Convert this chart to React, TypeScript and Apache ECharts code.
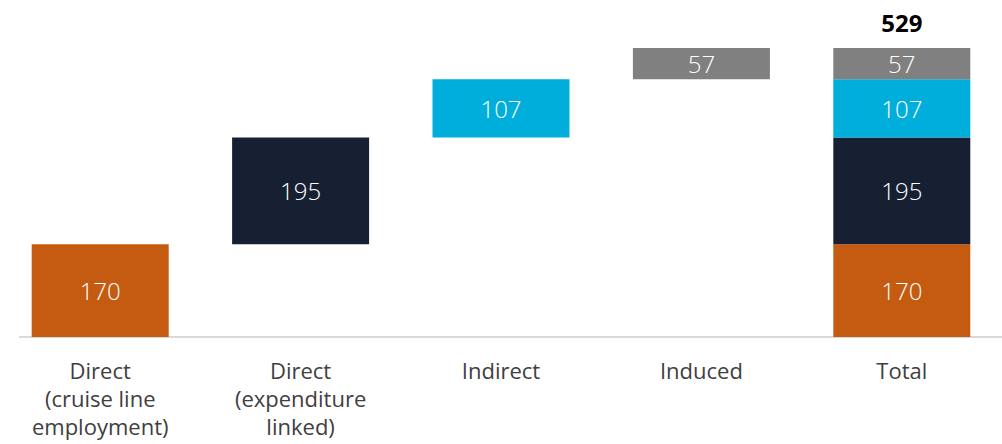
import React, { useEffect, useRef } from "react";
import * as echarts from "echarts";

const categories = [
  "Direct\n(cruise line\nemployment)",
  "Direct\n(expenditure\nlinked)",
  "Indirect",
  "Induced",
  "Total",
];
const baseValues = [0, 170, 365, 472, 0];
const directCruise = [170, 0, 0, 0, 170];
const directExpenditure = [0, 195, 0, 0, 195];
const indirect = [0, 0, 107, 0, 107];
const induced = [0, 0, 0, 57, 57];
const totalLabels = ["", "", "", "", "529"];

export default function App() {
  const ref = useRef<HTMLDivElement>(null);
  useEffect(() => {
    if (!ref.current) return;
    const chart = echarts.init(ref.current, undefined, { renderer: "svg" });
    const font = "'Open Sans', 'Noto Sans', sans-serif";
    const segLabel = {
      show: true,
      position: "inside",
      color: "#ffffff",
      fontSize: 24,
      fontWeight: 300,
      fontFamily: font,
      formatter: (p: any) => (p.value ? String(p.value) : ""),
    };
    const mk = (name: string, data: number[], color: string) => ({
      name,
      type: "bar",
      stack: "w",
      data,
      barWidth: 137,
      itemStyle: { color },
      label: segLabel,
      emphasis: { disabled: true },
    });
    chart.setOption({
      animation: false,
      grid: { left: -3, right: -8, top: 48, bottom: 107 },
      xAxis: {
        type: "category",
        data: categories,
        axisLine: { show: false },
        axisTick: { show: false },
        axisLabel: {
          color: "#404040",
          fontSize: 22,
          lineHeight: 28,
          fontFamily: font,
          margin: 19,
          interval: 0,
        },
      },
      yAxis: {
        type: "value",
        min: 0,
        max: 529,
        show: false,
        splitLine: { show: false },
      },
      graphic: [
        {
          type: "line",
          shape: { x1: 19, y1: 337, x2: 1002, y2: 337 },
          style: { stroke: "#d9d9d9", lineWidth: 2 },
          z: 0,
        },
      ],
      series: [
        {
          name: "base",
          type: "bar",
          stack: "w",
          data: baseValues,
          barWidth: 137,
          itemStyle: { color: "transparent" },
          emphasis: { disabled: true },
        },
        mk("Direct (cruise line employment)", directCruise, "#C55A11"),
        mk("Direct (expenditure linked)", directExpenditure, "#172033"),
        mk("Indirect", indirect, "#00AEDB"),
        mk("Induced", induced, "#808080"),
        {
          name: "total",
          type: "bar",
          stack: "w",
          data: [0, 0, 0, 0, 0],
          barWidth: 137,
          itemStyle: { color: "transparent" },
          label: {
            show: true,
            position: "top",
            distance: 14,
            color: "#000000",
            fontSize: 24,
            fontWeight: "bold",
            fontFamily: font,
            formatter: (p: any) => totalLabels[p.dataIndex],
          },
          emphasis: { disabled: true },
        },
      ],
    });
    return () => chart.dispose();
  }, []);
  return (
    <div
      ref={ref}
      style={{ position: "absolute", left: 0, top: 0, width: 1002, height: 444 }}
    />
  );
}
